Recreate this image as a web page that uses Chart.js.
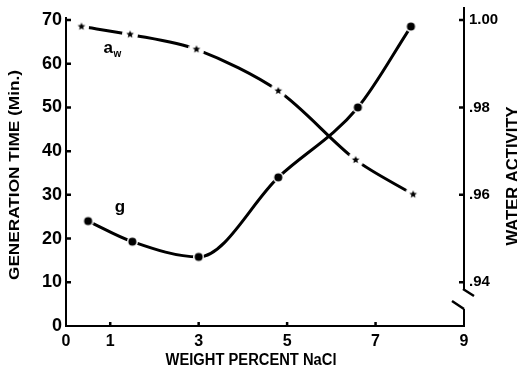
<!DOCTYPE html>
<html lang="en">
<head>
  <meta charset="UTF-8">
  <title>Generation time and water activity vs NaCl</title>
  <style>
    body { margin: 0; background: #fff; }
    #chart { display: block; }
  </style>
</head>
<body>
  <canvas id="chart" width="517" height="372"></canvas>

  <script src="https://cdn.jsdelivr.net/npm/chart.js"></script>
  <script>
    // data
    const gSalt = [0.5, 1.5, 3.0, 4.8, 6.6, 7.8];          // weight percent NaCl
    const gTime = [24, 19.3, 15.8, 34, 50, 68.5];          // generation time (min)
    const awSalt = [0.35, 1.45, 2.95, 4.8, 6.55, 7.85];
    const awValue = [0.9985, 0.9967, 0.9933, 0.9838, 0.968, 0.9601];

    const xTicks = [0, 1, 3, 5, 7, 9];
    const leftTicks = [0, 10, 20, 30, 40, 50, 60, 70];
    const rightTicks = [0.94, 0.96, 0.98, 1.00];
    const rightTickLabels = ['.94', '.96', '.98', '1.00'];

    const FONT = '"Liberation Sans", Arial, sans-serif';

    // marker images with a white halo so the curve breaks around them
    function dotMarker(r, halo) {
      const c = document.createElement('canvas');
      const s = Math.ceil(2 * (r + halo));
      c.width = c.height = s;
      const g = c.getContext('2d');
      g.fillStyle = '#fff';
      g.beginPath(); g.arc(s / 2, s / 2, r + halo, 0, Math.PI * 2); g.fill();
      g.fillStyle = '#000';
      g.beginPath(); g.arc(s / 2, s / 2, r, 0, Math.PI * 2); g.fill();
      return c;
    }
    function starMarker(r, halo) {
      const c = document.createElement('canvas');
      const s = Math.ceil(2 * (r + halo));
      c.width = c.height = s;
      const g = c.getContext('2d');
      g.fillStyle = '#fff';
      g.beginPath(); g.arc(s / 2, s / 2, r + halo, 0, Math.PI * 2); g.fill();
      g.fillStyle = '#000';
      g.beginPath();
      for (let i = 0; i < 10; i++) {
        const rad = i % 2 === 0 ? r : r * 0.45;
        const a = -Math.PI / 2 + i * Math.PI / 5;
        g.lineTo(s / 2 + rad * Math.cos(a), s / 2 + rad * Math.sin(a));
      }
      g.closePath(); g.fill();
      return c;
    }

    // axes, inward ticks, broken right axis, titles and curve labels
    const decorations = {
      id: 'decorations',
      afterDraw(chart) {
        const ctx = chart.ctx;
        const x = chart.scales.x, y = chart.scales.y, y1 = chart.scales.y1;
        const L = x.left, R = x.right, B = y.bottom;
        ctx.save();
        ctx.strokeStyle = '#000';
        ctx.lineCap = 'butt';

        // axis lines
        ctx.lineWidth = 2;
        ctx.beginPath();
        ctx.moveTo(L, y.getPixelForValue(70) - 3); ctx.lineTo(L, B + 1);
        ctx.moveTo(L - 1, B); ctx.lineTo(R + 1, B);
        // right axis with a break near the bottom
        ctx.moveTo(R, 7); ctx.lineTo(R, 289);
        ctx.moveTo(R, B); ctx.lineTo(R, 309);
        ctx.stroke();
        ctx.lineWidth = 2.5;
        ctx.beginPath();
        ctx.moveTo(R - 1, 289); ctx.lineTo(R + 10, 296);
        ctx.moveTo(R - 12, 301); ctx.lineTo(R, 309);
        ctx.stroke();

        // inward tick marks
        ctx.lineWidth = 2.5;
        ctx.beginPath();
        leftTicks.forEach(v => {
          if (v === 0) return;
          const py = y.getPixelForValue(v);
          ctx.moveTo(L, py); ctx.lineTo(L + 5, py);
        });
        rightTicks.forEach(v => {
          const py = y1.getPixelForValue(v);
          ctx.moveTo(R, py); ctx.lineTo(R - 5, py);
        });
        xTicks.forEach(v => {
          if (v === 0 || v === 9) return;
          const px = x.getPixelForValue(v);
          ctx.moveTo(px, B); ctx.lineTo(px, B - 4);
        });
        ctx.stroke();

        // titles, squeezed to the widths seen in the figure
        function fitText(text, cx, cy, width, size, rot) {
          ctx.save();
          ctx.translate(cx, cy);
          ctx.rotate(rot);
          ctx.font = 'bold ' + size + 'px ' + FONT;
          const w = ctx.measureText(text).width;
          ctx.scale(width / w, 1);
          ctx.fillStyle = '#000';
          ctx.textAlign = 'center';
          ctx.textBaseline = 'middle';
          ctx.fillText(text, 0, 0);
          ctx.restore();
        }
        fitText('GENERATION TIME (Min.)', 15, 175, 210, 15, -Math.PI / 2);
        fitText('WATER ACTIVITY', 514, 176, 139, 16, -Math.PI / 2);
        fitText('WEIGHT PERCENT NaCl', 251, 361, 171, 16, 0);

        // curve labels
        ctx.fillStyle = '#000';
        ctx.textBaseline = 'alphabetic';
        ctx.textAlign = 'left';
        ctx.font = 'bold 17px ' + FONT;
        const ax = x.getPixelForValue(0.85), ay = y.getPixelForValue(62.5);
        ctx.fillText('a', ax, ay);
        ctx.font = 'bold 10px ' + FONT;
        ctx.fillText('w', ax + 10, ay + 4);
        ctx.font = 'bold 17px ' + FONT;
        ctx.fillText('g', x.getPixelForValue(1.1), y.getPixelForValue(26));
        ctx.restore();
      }
    };

    new Chart(document.getElementById('chart'), {
      type: 'line',
      data: {
        datasets: [
          {
            label: 'g',
            data: gSalt.map((s, i) => ({ x: s, y: gTime[i] })),
            yAxisID: 'y',
            borderColor: '#000',
            borderWidth: 3,
            cubicInterpolationMode: 'monotone',
            pointStyle: dotMarker(4, 1.5),
            pointRadius: 5
          },
          {
            label: 'aw',
            data: awSalt.map((s, i) => ({ x: s, y: awValue[i] })),
            yAxisID: 'y1',
            borderColor: '#000',
            borderWidth: 3,
            tension: 0.3,
            pointStyle: starMarker(4, 4),
            pointRadius: 5
          }
        ]
      },
      options: {
        responsive: false,
        animation: false,
        layout: { padding: { top: 20, left: 0, right: 0, bottom: 0 } },
        plugins: { legend: { display: false }, tooltip: { enabled: false } },
        scales: {
          x: {
            type: 'linear', min: 0, max: 9,
            grid: { display: false, drawTicks: false },
            border: { display: false },
            afterBuildTicks: s => { s.ticks = xTicks.map(v => ({ value: v })); },
            afterFit: s => { s.height = 46; },
            ticks: {
              padding: 6, color: '#000', maxRotation: 0,
              font: { family: FONT, weight: 'bold', size: 16 }
            }
          },
          y: {
            position: 'left', min: 0, max: 70,
            grid: { display: false, drawTicks: false },
            border: { display: false },
            afterBuildTicks: s => { s.ticks = leftTicks.map(v => ({ value: v })); },
            afterFit: s => { s.width = 66; },
            ticks: {
              padding: 4, color: '#000',
              font: { family: FONT, weight: 'bold', size: 18 }
            }
          },
          y1: {
            position: 'right', min: 0.93, max: 1.00,
            grid: { display: false, drawTicks: false },
            border: { display: false },
            afterBuildTicks: s => { s.ticks = rightTicks.map(v => ({ value: v })); },
            afterFit: s => { s.width = 53; },
            ticks: {
              padding: 5, color: '#000',
              font: { family: FONT, weight: 'bold', size: 15 },
              callback: (v, i) => rightTickLabels[i]
            }
          }
        }
      },
      plugins: [decorations]
    });
  </script>
</body>
</html>
